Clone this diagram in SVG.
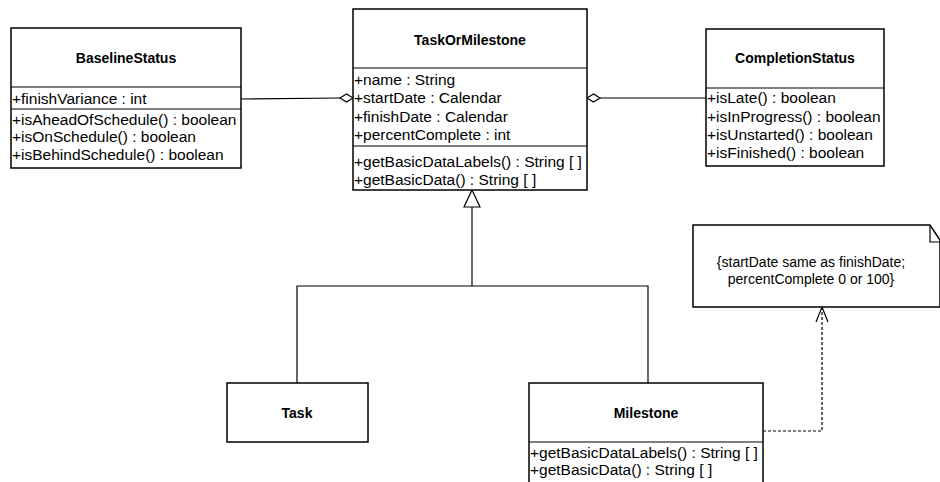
<svg xmlns="http://www.w3.org/2000/svg" width="940" height="482" viewBox="0 0 940 482">
<style>
.box{fill:#fff;stroke:#000;stroke-width:1.5}
.sep{stroke:#000;stroke-width:1.2}
.t{font-family:"Liberation Sans",Arial,sans-serif;font-size:15.5px;fill:#000}
.b{font-family:"Liberation Sans",Arial,sans-serif;font-size:14px;font-weight:bold;fill:#000;text-anchor:middle}
.n{font-family:"Liberation Sans",Arial,sans-serif;font-size:14px;fill:#000;text-anchor:middle}
.ln{fill:none;stroke:#000;stroke-width:1.2}
.dash{fill:none;stroke:#000;stroke-width:1.2;stroke-dasharray:3,2}
</style>
<rect width="940" height="482" fill="#fff"/>
<g id="connectors">
<line class="ln" x1="241" y1="99" x2="340" y2="98"/>
<polygon points="340,98 346.5,94 353,98 346.5,102" fill="#fff" stroke="#000" stroke-width="1.2"/>
<line class="ln" x1="600" y1="98" x2="706" y2="98"/>
<polygon points="587,98 593.5,94 600,98 593.5,102" fill="#fff" stroke="#000" stroke-width="1.2"/>
<polyline class="ln" points="297,383 297,286 648,286 648,383"/>
<line class="ln" x1="472" y1="286" x2="472" y2="207"/>
<polygon points="472,190 480,207 464,207" fill="#fff" stroke="#000" stroke-width="1.2"/>
<polyline class="dash" points="763,431 822,431 822,308"/>
<polyline class="ln" points="816,322 822,307 828,322"/>
</g>
<g id="BaselineStatus">
<rect class="box" x="11" y="28" width="230" height="140"/>
<line class="sep" x1="11" y1="87" x2="241" y2="87"/>
<line class="sep" x1="11" y1="109" x2="241" y2="109"/>
<text class="b" x="126" y="63">BaselineStatus</text>
<text class="t" x="12" y="104">+finishVariance : int</text>
<text class="t" x="12" y="125">+isAheadOfSchedule() : boolean</text>
<text class="t" x="12" y="142">+isOnSchedule() : boolean</text>
<text class="t" x="12" y="160">+isBehindSchedule() : boolean</text>
</g>
<g id="TaskOrMilestone">
<rect class="box" x="353" y="9" width="234" height="181"/>
<line class="sep" x1="353" y1="68" x2="587" y2="68"/>
<line class="sep" x1="353" y1="146" x2="587" y2="146"/>
<text class="b" x="470" y="45">TaskOrMilestone</text>
<text class="t" x="354" y="85">+name : String</text>
<text class="t" x="354" y="103">+startDate : Calendar</text>
<text class="t" x="354" y="122">+finishDate : Calendar</text>
<text class="t" x="354" y="140">+percentComplete : int</text>
<text class="t" x="354" y="167">+getBasicDataLabels() : String [ ]</text>
<text class="t" x="354" y="185">+getBasicData() : String [ ]</text>
</g>
<g id="CompletionStatus">
<rect class="box" x="706" y="29" width="178" height="137"/>
<line class="sep" x1="706" y1="88" x2="884" y2="88"/>
<text class="b" x="795" y="63">CompletionStatus</text>
<text class="t" x="707" y="103">+isLate() : boolean</text>
<text class="t" x="707" y="122">+isInProgress() : boolean</text>
<text class="t" x="707" y="140">+isUnstarted() : boolean</text>
<text class="t" x="707" y="158">+isFinished() : boolean</text>
</g>
<g id="Note">
<path class="box" d="M693,225 L930,225 L940,240 L940,307 L693,307 Z"/>
<polyline class="ln" points="930,225 930,242 940,242" stroke-width="1.5"/>
<text class="n" x="811" y="267">{startDate same as finishDate;</text>
<text class="n" x="811" y="284">percentComplete 0 or 100}</text>
</g>
<g id="Task">
<rect class="box" x="227" y="383" width="141" height="59"/>
<text class="b" x="297" y="418">Task</text>
</g>
<g id="Milestone">
<rect class="box" x="529" y="383" width="234" height="104"/>
<line class="sep" x1="529" y1="442" x2="763" y2="442"/>
<text class="b" x="646" y="418">Milestone</text>
<text class="t" x="530" y="458">+getBasicDataLabels() : String [ ]</text>
<text class="t" x="530" y="475">+getBasicData() : String [ ]</text>
</g>
</svg>
